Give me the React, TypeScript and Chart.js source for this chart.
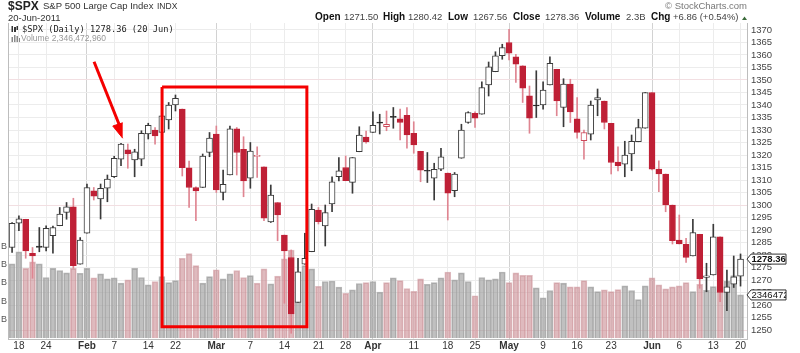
import React, { useEffect, useRef } from "react";
import { Chart, registerables } from "chart.js";

Chart.register(...registerables);

const F = "'Liberation Sans', Arial, sans-serif";

// Daily $SPX OHLC, 14-Jan-2011 to 20-Jun-2011
const opens = [
  1283,1292.7,1294.3,1280.7,1283.6,1283,1287.7,1291.7,1297,1299.3,
  1276.3,1288.7,1305.7,1302.4,1306.7,1311.3,1318.3,1322.1,1318,1318.3,
  1328.4,1330,1329,1334,1340,1338.4,1314.9,1307,1307,1321,
  1328.4,1305,1312,1330.5,1322.3,1310.7,1319.4,1315.3,1293.2,1301,
  1288,1279,1261,1276.3,1281.3,1298,1291.6,1300.4,1311.3,1315,
  1309,1321.3,1327.2,1329,1333.2,1331.3,1335.5,1334.5,1335.9,1328.7,
  1321.5,1313.9,1310.7,1314.3,1312.8,1305.7,1318.7,1333,1336.7,1336.3,
  1348,1353.3,1359.7,1365,1359.3,1355.7,1343.7,1339.6,1340,1348,
  1354.3,1339,1348.4,1334.5,1325.7,1328.3,1342,1341.6,1332.7,1317.2,
  1316.3,1320.4,1325.3,1330.7,1345,1314.4,1312.4,1300,1286,1284.3,
  1279.6,1288.3,1271,1272,1287.3,1265,1268.3,1271.5,
];
const closes = [
  1292.7,1294.5,1281.6,1279.6,1283,1290.7,1291,1296.4,1299.3,1275.7,
  1286,1307,1303.5,1306.7,1310.4,1318.7,1324.4,1320.4,1321.3,1328.7,
  1331.9,1327.6,1335.7,1340,1342.7,1314.9,1307,1305.6,1319.6,1326.8,
  1306,1308.3,1330.5,1321,1309.6,1321.6,1319.9,1294.7,1304,1296,
  1281.6,1256.4,1273.3,1278.7,1298.3,1293.3,1297,1309.3,1313.7,1309.7,
  1319,1328,1325.2,1331.9,1332.7,1332.3,1335,1333,1328,1324,
  1313.9,1313.5,1314.3,1319.3,1304.7,1312.4,1330,1337,1334.7,1347,
  1355.3,1359.7,1363,1360.7,1356.3,1346.7,1334.7,1339.9,1346,1356.7,
  1341.6,1348.4,1337.2,1329,1329,1340,1343,1333,1317,1315.7,
  1320,1325.5,1331,1345,1314.3,1312.4,1300,1285.7,1284.4,1279,
  1289,1270.4,1271.7,1287.3,1265,1267.3,1271.3,1278.36,
];
const highs = [
  1293,1295.7,1294.3,1283,1291,1291.7,1291.6,1299,1301,1302.7,
  1287,1308.4,1307,1308.4,1312,1319.5,1324.7,1324.4,1322.3,1329.7,
  1332.7,1331,1336.3,1341,1344,1338.4,1317.6,1307.3,1320.4,1329,
  1331.6,1314,1331.6,1331,1327.3,1325,1323.3,1315.3,1308,1301,
  1288,1282,1278.7,1288.7,1300.4,1299,1300,1311.3,1319,1319.6,
  1319,1331.3,1329.6,1337.3,1336.3,1337.6,1339,1338.4,1339,1333.3,
  1321.5,1321,1316.7,1322.7,1312.8,1313,1332.3,1337.3,1337.3,1349.3,
  1357.2,1361.3,1364.3,1370.3,1360.3,1355.7,1347.6,1353.7,1349.3,1359.3,
  1354.3,1350.5,1350.3,1343,1330,1341.6,1346.4,1341.6,1332.7,1323.3,
  1325.5,1328,1334.3,1345,1345,1317.7,1312.4,1300,1296,1286.7,
  1294.3,1288.3,1276.7,1292.3,1287.3,1274,1279.6,1280.42,
];
const lows = [
  1281,1289.7,1278.7,1270.7,1281.3,1281.6,1280.7,1291.7,1294.3,1274.7,
  1276.3,1288.7,1302,1294.4,1301.3,1311,1315.7,1314.7,1311.3,1315.7,
  1326.4,1324.3,1328,1330.4,1337.6,1311.6,1299,1293.7,1307,1319.3,
  1305,1302,1312,1312,1303.3,1306.7,1311,1293.7,1293,1285.7,
  1260.7,1248.7,1261,1276.3,1281.3,1292.4,1283.6,1297.3,1309.6,1309.7,
  1304.7,1321.3,1324.7,1329,1328.4,1329.7,1330.7,1326,1322.7,1320.7,
  1309.3,1309,1302,1313.7,1294,1303.3,1318.7,1332.7,1331,1336.3,
  1343.6,1353.3,1358.3,1358,1349,1341,1328.7,1335,1338.3,1348,
  1335.7,1331.3,1333,1326.7,1318.3,1326,1335.7,1330.4,1312.4,1313.6,
  1311.3,1313.7,1325.3,1330.7,1314,1305.3,1297.3,1284.4,1284.4,1277,
  1279.6,1266.7,1265.3,1272,1261.3,1257.7,1267,1267.56,
];
// H hollow up, R filled red, K black doji, O hollow red
const bodyKinds = [
  "HHRRKHHHHR","HHRHHHHRHH","HRHHHRRRHH","RHHRRHORHR",
  "RRHHHRHHHR","HHRHKOKRRR","RKHHRHHHRH","HHHRRRRKHH",
  "RHRROHHRRR","HHHHRRRRRR","HRHHRHHH",
].join("");
// Volume in billions
const volumes = [
  4.04,4.7,3.8,4.15,4.04,3.3,3.8,3.68,3.55,3.8,
  3.53,3.8,3.28,3.5,3.22,3.28,2.99,3.17,3.8,3.3,
  2.9,3.08,3.35,3.02,3.13,4.35,4.6,3.95,2.99,3.35,
  3.72,3.22,3.5,3.68,3.3,3.4,2.99,3.77,2.95,3.37,
  4.32,4.8,3.59,3.95,3.77,2.82,3.08,3.11,2.77,2.44,
  2.62,2.97,3.02,3.08,2.5,3.02,3.28,3.13,2.7,2.55,
  3.22,2.93,3.02,3.28,3.6,3.17,3.55,3.08,2.3,3.3,
  3.17,3.22,3.6,3.02,3.55,3.42,3.42,2.73,2.19,2.59,
  3.02,2.99,2.79,2.79,3.13,2.79,2.53,2.62,2.53,2.64,
  2.84,2.59,2.09,2.84,3.28,2.9,2.68,2.79,2.84,3.02,
  2.53,2.92,2.6,2.8,2.8,3.1,3.41,2.35,
];
const xTickIndex = [1,5,11,15,20,24,30,35,40,45,49,53,59,64,68,73,78,83,88,94,98,103,107];
const xTickLabels = ["18","24","Feb","7","14","22","Mar","7","14","21","28","Apr","11","18","25","May","9","16","23","Jun","6","13","20"];
const monthLabels = ["Feb","Mar","Apr","May","Jun"];
const priceTicks = [1370,1365,1360,1355,1350,1345,1340,1335,1330,1325,1320,1315,1310,1305,1300,1295,1290,1285,1280,1275,1270,1265,1260,1255,1250];
const volumeTicks = [1,2,3,4,5];
// Hand-drawn highlight box and arrow (x = session index, y = price)
const boxX = [22.03,43.3,43.3,22.03,22.03];
const boxY = [1347.2,1347.2,1251.3,1251.3,1347.2];
const arrowX = [12.04,15.9];
const arrowY = [1357.3,1331];
const arrowHeadX = [16.25,14.79,16.25];
const arrowHeadY = [1326.7,1331.6,1332.9];
const lastClose = 1278.36;
const lastVolume = 2.346;

const RED = "#bf2036";
const RED_WICK = "#df8591";
const DARK = "#3a3a3a";
const isRed = (i: number) => bodyKinds[i] === "R" || bodyKinds[i] === "O";
const pts = (xs: number[], ys: number[]) => xs.map((x, i) => ({ x, y: ys[i] }));

const overlay = {
  id: "overlay",
  afterDraw(chart: any) {
    const { ctx, scales } = chart;
    const text = (s: string, x: number, y: number, font: string, color = "#222", align: CanvasTextAlign = "left") => {
      ctx.font = font;
      ctx.fillStyle = color;
      ctx.textAlign = align;
      ctx.textBaseline = "middle";
      ctx.fillText(s, x, y);
    };
    ctx.save();
    text("$SPX", 8, 6.5, `bold 12px ${F}`, "#222");
    text("S&P 500 Large Cap Index", 43, 6.5, `9.5px ${F}`, "#333");
    text("INDX", 157, 6.5, `8.5px ${F}`, "#333");
    text("20-Jun-2011", 8, 18, `9.5px ${F}`, "#333");
    text("© StockCharts.com", 747, 6.5, `9.5px ${F}`, "#777", "right");
    const head: [string, number, boolean][] = [
      ["Open", 315, true], ["1271.50", 344, false], ["High", 383, true], ["1280.42", 408, false],
      ["Low", 448, true], ["1267.56", 473, false], ["Close", 513, true], ["1278.36", 545, false],
      ["Volume", 585, true], ["2.3B", 626, false], ["Chg", 651, true], ["+6.86 (+0.54%)", 673, false],
    ];
    head.forEach(([s, x, b]) => text(s, x, 17.5, b ? `bold 10px ${F}` : `9.5px ${F}`, b ? "#111" : "#444"));
    ctx.fillStyle = "#3a6a3a";
    ctx.beginPath();
    ctx.moveTo(742, 20);
    ctx.lineTo(747, 20);
    ctx.lineTo(744.5, 16.5);
    ctx.fill();

    text("$SPX (Daily) 1278.36 (20 Jun)", 22, 29.5, `8.7px 'DejaVu Sans Mono', monospace`, "#222");
    text("Volume 2,346,472,960", 21, 38.5, `8.5px ${F}`, "#999");
    ctx.fillStyle = "#333";
    ctx.fillRect(11.5, 26, 1.5, 6);
    ctx.fillRect(14, 27, 2, 5);
    ctx.fillRect(16.5, 26, 1.5, 4);
    ctx.fillStyle = "#888";
    ctx.fillRect(11.5, 37, 1.5, 5);
    ctx.fillRect(14, 35, 1.5, 7);
    ctx.fillRect(16.5, 36, 1.5, 6);
    ctx.fillRect(19, 38, 1, 4);

    const callout = (s: string, y: number, font: string) => {
      const l = 747, r = 786, h = 5;
      ctx.beginPath();
      ctx.moveTo(l, y);
      ctx.lineTo(l + 4, y - h);
      ctx.lineTo(r, y - h);
      ctx.lineTo(r, y + h);
      ctx.lineTo(l + 4, y + h);
      ctx.closePath();
      ctx.fillStyle = "#fff";
      ctx.fill();
      ctx.strokeStyle = "#333";
      ctx.lineWidth = 1;
      ctx.stroke();
      ctx.save();
      ctx.beginPath();
      ctx.rect(l, y - h, r - l, 2 * h);
      ctx.clip();
      text(s, l + 4.5, y + 0.5, font, "#111");
      ctx.restore();
    };
    callout(lastClose.toFixed(2), scales.y.getPixelForValue(lastClose), `bold 9.5px ${F}`);
    callout("2346472960", scales.y2.getPixelForValue(lastVolume), `9.5px ${F}`);
    ctx.restore();
  },
};

export default function App() {
  const ref = useRef<HTMLCanvasElement>(null);
  useEffect(() => {
    document.body.style.margin = "0";
    const idx = opens.map((_, i) => i);
    const chart = new Chart(ref.current as HTMLCanvasElement, {
      type: "bar",
      data: {
        datasets: [
          {
            label: "Volume",
            yAxisID: "y2",
            data: idx.map((i) => ({ x: i, y: volumes[i] })),
            backgroundColor: idx.map((i) => (isRed(i) ? "rgba(196,130,136,0.55)" : "rgba(150,150,150,0.6)")),
            borderColor: idx.map((i) => (isRed(i) ? "rgba(210,160,165,0.7)" : "rgba(165,165,165,0.8)")),
            borderWidth: 1,
            barThickness: 6,
            grouped: false,
            order: 4,
          },
          {
            label: "Range",
            yAxisID: "y",
            data: idx.map((i) => ({ x: i, y: [lows[i], highs[i]] })),
            backgroundColor: idx.map((i) => (isRed(i) ? RED_WICK : DARK)),
            barThickness: 1,
            grouped: false,
            order: 3,
          },
          {
            label: "Open-Close",
            yAxisID: "y",
            data: idx.map((i) => ({ x: i, y: [opens[i], closes[i]] })),
            backgroundColor: idx.map((i) => {
              const k = bodyKinds[i];
              return k === "R" ? RED : k === "K" ? "#111" : "#fff";
            }),
            borderColor: idx.map((i) => {
              const k = bodyKinds[i];
              return k === "R" ? RED : k === "O" ? "#cc4a5a" : DARK;
            }),
            borderWidth: 1,
            borderSkipped: false,
            barThickness: 6,
            grouped: false,
            order: 2,
          },
          {
            type: "line",
            label: "Box",
            yAxisID: "y",
            data: pts(boxX, boxY),
            borderColor: "#f40000",
            borderWidth: 3,
            pointRadius: 0,
            fill: false,
            tension: 0,
            order: 1,
          },
          {
            type: "line",
            label: "Arrow",
            yAxisID: "y",
            data: pts(arrowX, arrowY),
            borderColor: "#f40000",
            borderWidth: 3,
            pointRadius: 0,
            fill: false,
            order: 1,
          },
          {
            type: "line",
            label: "Arrow head",
            yAxisID: "y",
            data: pts(arrowHeadX, arrowHeadY),
            borderColor: "#f40000",
            backgroundColor: "#f40000",
            borderWidth: 1,
            pointRadius: 0,
            fill: "shape",
            order: 1,
          },
        ],
      } as any,
      options: {
        animation: false,
        responsive: false,
        layout: { padding: { top: 23 } },
        plugins: { legend: { display: false }, tooltip: { enabled: false } },
        scales: {
          x: {
            type: "linear",
            offset: false,
            min: -0.6,
            max: 107.95,
            afterBuildTicks: (s: any) => {
              s.ticks = xTickIndex.map((value) => ({ value }));
            },
            afterFit: (s: any) => {
              s.height = 14;
            },
            ticks: {
              autoSkip: false,
              maxRotation: 0,
              padding: 1,
              color: "#333",
              font: (c: any) => ({
                family: F,
                size: 10,
                weight: monthLabels.includes(xTickLabels[xTickIndex.indexOf(c.tick?.value)]) ? "bold" : "normal",
              }),
              callback: (v: any) => xTickLabels[xTickIndex.indexOf(v)],
            },
            grid: {
              offset: false,
              drawTicks: false,
              lineWidth: 1,
              color: (c: any) =>
                monthLabels.includes(xTickLabels[xTickIndex.indexOf(c.tick?.value)]) ? "#d2d2d2" : "#ececec",
            },
            border: { color: "#bdbdbd" },
          },
          y: {
            position: "right",
            min: 1246.4,
            max: 1372.8,
            afterBuildTicks: (s: any) => {
              s.ticks = priceTicks.map((value) => ({ value }));
            },
            afterFit: (s: any) => {
              s.width = 53;
            },
            ticks: { autoSkip: false, padding: 4, color: "#444", font: { family: F, size: 9.5 }, callback: (v: any) => String(v) },
            grid: {
              drawTicks: false,
              lineWidth: 1,
              color: (c: any) => (c.tick?.value % 50 === 0 ? "#f2dfe2" : "#ececec"),
            },
            border: { color: "#bdbdbd" },
          },
          y2: {
            position: "left",
            min: -0.06,
            max: 17.2,
            afterBuildTicks: (s: any) => {
              s.ticks = volumeTicks.map((value) => ({ value }));
            },
            afterFit: (s: any) => {
              s.width = 8;
            },
            ticks: { autoSkip: false, padding: 1, color: "#555", font: { family: F, size: 9 }, callback: () => "B" },
            grid: { drawOnChartArea: false, drawTicks: false },
            border: { color: "#bdbdbd" },
          },
        },
      } as any,
      plugins: [overlay],
    });
    return () => chart.destroy();
  }, []);
  return (
    <div style={{ width: 800, height: 353, position: "relative", background: "#fff" }}>
      <canvas ref={ref} width={800} height={353} style={{ display: "block", width: 800, height: 353 }} />
    </div>
  );
}
